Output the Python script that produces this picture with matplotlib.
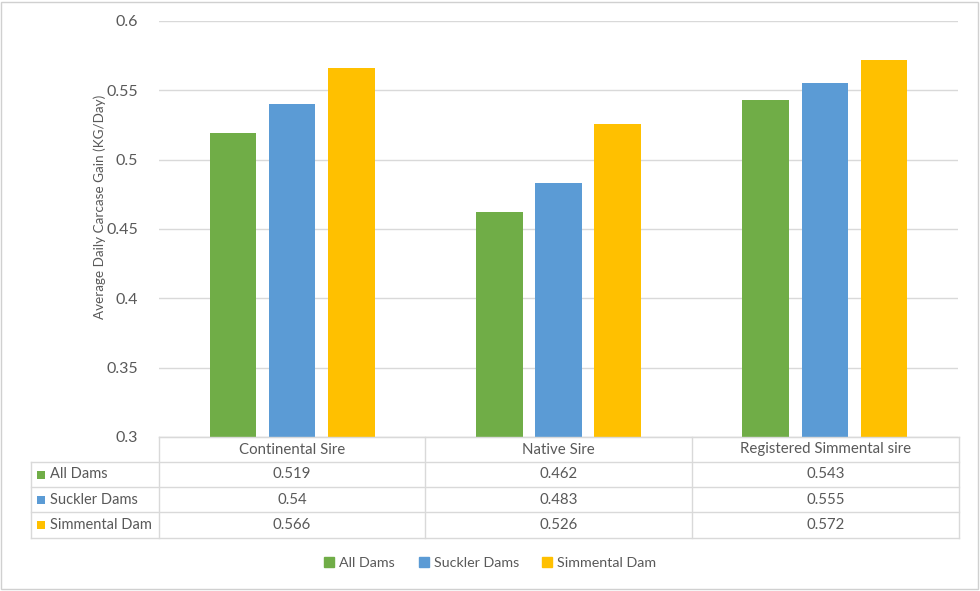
import matplotlib
matplotlib.use('Agg')
import matplotlib.pyplot as plt
from matplotlib.lines import Line2D
from matplotlib.patches import Rectangle

# Data
categories = ['Continental Sire', 'Native Sire', 'Registered Simmental sire']
series_names = ['All Dams', 'Suckler Dams', 'Simmental Dam']
all_dams = [0.519, 0.462, 0.543]
suckler_dams = [0.54, 0.483, 0.555]
simmental_dam = [0.566, 0.526, 0.572]
yticks = [0.3, 0.35, 0.4, 0.45, 0.5, 0.55, 0.6]

colors = ['#70AD47', '#5B9BD5', '#FFC000']
text_color = '#595959'
line_color = '#D9D9D9'

plt.rcParams['font.family'] = ['Lato', 'DejaVu Sans']

W, H = 980, 591
fig = plt.figure(figsize=(W / 100, H / 100), dpi=100)


def fx(x):
    return x / W


def fy(y):
    return 1 - y / H


# Outer chart border
fig.patches.append(Rectangle((fx(1), fy(589)), fx(977), 587 / H, transform=fig.transFigure,
                             fill=False, edgecolor='#D0D0D0', linewidth=1))

left, right, top, bottom = 159, 958, 21, 437
ax = fig.add_axes([fx(left), fy(bottom), fx(right - left), (bottom - top) / H])

series = [all_dams, suckler_dams, simmental_dam]
offsets = [-0.222, 0.0, 0.222]
width = 0.175
x = list(range(len(categories)))
for vals, off, c, name in zip(series, offsets, colors, series_names):
    ax.bar([i + off for i in x], vals, width, color=c, label=name, zorder=3)

ax.set_xlim(-0.5, len(categories) - 0.5)
ax.set_ylim(0.3, 0.6)
ax.set_yticks(yticks)
ax.set_yticklabels([f'{t:g}' for t in yticks])
ax.set_xticks([])
ax.tick_params(axis='y', length=0, pad=15, labelsize=11.5, labelcolor=text_color)
ax.grid(True, axis='y', color=line_color, linewidth=1, zorder=0)
for s in ['top', 'right', 'left']:
    ax.spines[s].set_visible(False)
ax.spines['bottom'].set_color(line_color)

fig.text(fx(100), fy(207), 'Average Daily Carcase Gain (KG/Day)', rotation=90,
         ha='center', va='center', fontsize=9.7, color=text_color)

# Data table below the plot
row_y = [437, 462, 487, 512, 538]
col_x = [159, 425, 692, 959]
tl = fig.transFigure
for y in row_y[1:]:
    fig.lines.append(Line2D([fx(31), fx(959)], [fy(y), fy(y)], transform=tl, color=line_color, lw=1))
fig.lines.append(Line2D([fx(159), fx(959)], [fy(437), fy(437)], transform=tl, color=line_color, lw=1))
for xc in col_x:
    fig.lines.append(Line2D([fx(xc), fx(xc)], [fy(437), fy(538)], transform=tl, color=line_color, lw=1))
fig.lines.append(Line2D([fx(31), fx(31)], [fy(462), fy(538)], transform=tl, color=line_color, lw=1))

for j, cat in enumerate(categories):
    cx = (col_x[j] + col_x[j + 1]) / 2
    fig.text(fx(cx), fy((row_y[0] + row_y[1]) / 2), cat, ha='center', va='center',
             fontsize=10.8, color=text_color)

for i, (name, vals, c) in enumerate(zip(series_names, series, colors)):
    cy = (row_y[i + 1] + row_y[i + 2]) / 2
    fig.patches.append(Rectangle((fx(37), fy(cy + 4)), fx(8), 8 / H, transform=tl,
                                 facecolor=c, edgecolor='none'))
    fig.text(fx(50), fy(cy), name, ha='left', va='center', fontsize=10.5, color=text_color)
    for j, v in enumerate(vals):
        cx = (col_x[j] + col_x[j + 1]) / 2
        fig.text(fx(cx), fy(cy), f'{v:g}', ha='center', va='center', fontsize=10.8,
                 color=text_color)

# Legend
handles = [Line2D([], [], marker='s', linestyle='none', markersize=6.5, color=c) for c in colors]
fig.legend(handles, series_names, loc='center', bbox_to_anchor=(0.5, fy(563)), ncol=3,
           frameon=False, fontsize=10.3, labelcolor=text_color, handlelength=0.8,
           handletextpad=0.3, columnspacing=1.6)

plt.savefig('out.png', dpi=100)
plt.close()
